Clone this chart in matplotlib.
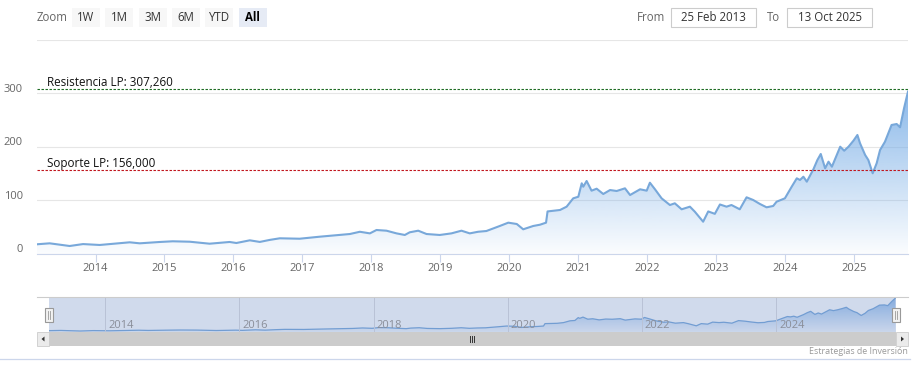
import numpy as np
import pandas as pd
import matplotlib
matplotlib.use("Agg")
import matplotlib.pyplot as plt
import matplotlib.dates as mdates
from matplotlib.patches import Rectangle, Polygon
from matplotlib.transforms import offset_copy, blended_transform_factory

plt.rcParams['font.family'] = ['Open Sans', 'DejaVu Sans']

# price series
dates = ["2013-02-25", "2013-05-03", "2013-08-17", "2013-10-27", "2014-01-23",
         "2014-07-01", "2014-08-23", "2014-12-07", "2015-02-14", "2015-05-15",
         "2015-08-28", "2015-12-12", "2016-01-17", "2016-03-28", "2016-05-20",
         "2016-07-12", "2016-09-03", "2016-12-17", "2017-04-03", "2017-09-09",
         "2017-11-01", "2017-12-24", "2018-01-28", "2018-03-22", "2018-05-14",
         "2018-06-27", "2018-07-23", "2018-09-06", "2018-10-20", "2018-12-29",
         "2019-03-01", "2019-04-23", "2019-06-06", "2019-07-20", "2019-09-02",
         "2019-11-12", "2019-12-27", "2020-02-10", "2020-03-15", "2020-05-07",
         "2020-06-12", "2020-07-14", "2020-07-22", "2020-09-26", "2020-10-31",
         "2020-12-05", "2021-01-01", "2021-01-19", "2021-01-27", "2021-02-14",
         "2021-03-12", "2021-04-08", "2021-05-13", "2021-06-18", "2021-07-23",
         "2021-09-05", "2021-10-02", "2021-11-24", "2021-12-29", "2022-01-15",
         "2022-02-11", "2022-03-18", "2022-05-01", "2022-05-27", "2022-07-02",
         "2022-08-15", "2022-09-10", "2022-10-24", "2022-11-20", "2022-12-25",
         "2023-01-21", "2023-02-25", "2023-03-23", "2023-05-06", "2023-06-11",
         "2023-07-16", "2023-08-21", "2023-09-25", "2023-10-30", "2023-11-17",
         "2023-12-31", "2024-02-05", "2024-03-03", "2024-03-20", "2024-04-07",
         "2024-04-25", "2024-05-30", "2024-06-20", "2024-07-08", "2024-07-31",
         "2024-08-18", "2024-09-05", "2024-10-19", "2024-11-09", "2024-12-02",
         "2024-12-28", "2025-01-18", "2025-02-01", "2025-02-28", "2025-03-17",
         "2025-04-09", "2025-04-30", "2025-05-18", "2025-06-13", "2025-07-18",
         "2025-08-14", "2025-09-01", "2025-09-22", "2025-10-13"]
prices = [17.6, 19.4, 14.4, 18.0, 16.3,
          21.3, 19.4, 21.9, 23.2, 22.4,
          18.7, 21.9, 20.0, 25.0, 22.0,
          25.8, 28.8, 28.0, 31.8, 36.8,
          41.0, 38.0, 44.3, 43.0, 38.0,
          35.0, 40.0, 43.0, 36.8, 35.0,
          38.0, 43.0, 38.0, 41.0, 42.4,
          51.8, 58.0, 55.5, 45.6, 51.8,
          54.2, 58.0, 79.0, 81.7, 87.9,
          103.5, 106.5, 131.6, 125.2, 135.9,
          117.8, 121.5, 111.6, 119.0, 117.2,
          122.2, 109.7, 120.4, 117.8, 132.7,
          120.4, 103.5, 91.0, 94.2, 83.0,
          87.9, 78.5, 59.8, 79.0, 74.5,
          92.0, 87.9, 91.0, 83.0, 105.4,
          100.4, 92.9, 86.7, 89.2, 97.2,
          103.5, 125.2, 140.9, 137.8, 143.9,
          134.6, 157.8, 175.1, 186.4, 159.6,
          172.0, 162.6, 200.0, 192.5, 200.0,
          211.2, 221.9, 206.4, 184.5, 175.1,
          150.3, 169.0, 193.8, 209.3, 240.6,
          242.4, 236.3, 271.8, 303.0]

resistencia = 307.26
soporte = 156.0
resistencia_label = "Resistencia LP: 307,260"
soporte_label = "Soporte LP: 156,000"

y_ticks = [0, 100, 200, 300, 400]
y_labels = ["0", "100", "200", "300"]
nav_years = [2014, 2016, 2018, 2020, 2022, 2024]

zoom_buttons = ["1W", "1M", "3M", "6M", "YTD", "All"]
date_from = "25 Feb 2013"
date_to = "13 Oct 2025"
credits = "Estrategias de Inversión"

W, H = 916, 374
fig = plt.figure(figsize=(W / 100, H / 100), dpi=100)
fig.patch.set_facecolor("white")

t = mdates.date2num(pd.to_datetime(dates))
p = np.array(prices)

line_col = "#78a8da"
fill_rgb = np.array([118, 172, 230]) / 255.0


def gradient_area(ax, x, y, top, a_top, a_bot):
    grad = np.zeros((256, 1, 4))
    grad[..., :3] = fill_rgb
    grad[:, 0, 3] = np.linspace(a_top, a_bot, 256)
    im = ax.imshow(grad, extent=[x[0], x[-1], 0, top], aspect="auto",
                   origin="upper", zorder=1, interpolation="bilinear")
    poly = ax.fill_between(x, y, 0, facecolor="none", edgecolor="none")
    im.set_clip_path(poly.get_paths()[0], transform=ax.transData)


# ---- main chart
ax = fig.add_axes([37 / W, (H - 253.7) / H, 871 / W, 214 / H])
gradient_area(ax, t, p, p.max(), 0.85, 0.03)
ax.plot(t, p, color=line_col, lw=1.5, zorder=3, solid_joinstyle="round")
ax.axhline(resistencia, color="#1d6b22", lw=0.8, ls=(0, (2.2, 1.4)), zorder=4)
ax.axhline(soporte, color="#c0141c", lw=0.8, ls=(0, (2.2, 1.4)), zorder=4)

ax.set_xlim(t[0], t[-1])
ax.set_ylim(0, 400)
ax.set_yticks(y_ticks)
ax.set_yticklabels([])
ax.tick_params(axis="y", length=0)
ax.yaxis.grid(True, color="#e6e6e6", lw=0.8)
ax.set_axisbelow(True)
for s in ["top", "left", "right"]:
    ax.spines[s].set_visible(False)
ax.spines["bottom"].set_color("#ccd6eb")
ax.spines["bottom"].set_linewidth(0.8)
ax.xaxis.set_major_locator(mdates.YearLocator())
ax.xaxis.set_major_formatter(mdates.DateFormatter("%Y"))
ax.tick_params(axis="x", direction="out", length=5.8, width=0.8,
               color="#ccd6eb", labelcolor="#666666", labelsize=8, pad=1.2)

ylab_tr = offset_copy(ax.get_yaxis_transform(), fig=fig, x=-14, y=4, units="dots")
for v, lab in zip(y_ticks, y_labels):
    ax.text(0, v, lab, transform=ylab_tr, ha="right", va="center",
            color="#666666", fontsize=8)

res_tr = offset_copy(ax.get_yaxis_transform(), fig=fig, x=10, y=7, units="dots")
ax.text(0, resistencia, resistencia_label, transform=res_tr, ha="left",
        va="center", color="#111111", fontsize=8.4)
ax.text(0, soporte, soporte_label, transform=res_tr, ha="left",
        va="center", color="#111111", fontsize=8.4)

# ---- navigator
nav = fig.add_axes([48.5 / W, (H - 332) / H, 847 / W, 35 / H])
span = p.max() - p.min()
gradient_area(nav, t, p, p.max(), 0.8, 0.05)
nav.plot(t, p, color=line_col, lw=0.9, zorder=3)
nav.set_xlim(t[0], t[-1])
nav.set_ylim(p.min() - span * 0.03, p.max() + span * 0.03)
nav.axvspan(t[0], t[-1], color=(102 / 255, 133 / 255, 194 / 255), alpha=0.3,
            lw=0, zorder=4)
nav.axis("off")
nav_tr = blended_transform_factory(nav.transData, nav.transAxes)
nav_lab_tr = offset_copy(nav_tr, fig=fig, x=3, y=0, units="dots")
for yr in nav_years:
    xn = mdates.date2num(pd.Timestamp(f"{yr}-01-01"))
    nav.plot([xn, xn], [0, 1], transform=nav_tr, color="#b9c2d6", lw=0.7, zorder=5)
    nav.text(xn, 0.18, str(yr), transform=nav_lab_tr, ha="left", va="center",
             color="#8a8e99", fontsize=8, zorder=6)

# ---- page chrome in pixel coords
ov = fig.add_axes([0, 0, 1, 1], zorder=10)
ov.set_xlim(0, W)
ov.set_ylim(H, 0)
ov.axis("off")
ov.patch.set_alpha(0)

ov.text(37, 17.5, "Zoom", ha="left", va="center", color="#666666", fontsize=8.3)
for i, lab in enumerate(zoom_buttons):
    x0 = 72 + i * 33.3
    sel = lab == "All"
    ov.add_patch(Rectangle((x0, 8), 28, 19, fc="#e6ebf5" if sel else "#f7f7f7",
                           ec="none"))
    ov.text(x0 + 14, 17.5, lab, ha="center", va="center",
            color="#000000" if sel else "#333333", fontsize=8.3,
            fontweight="bold" if sel else "normal")

ov.text(665, 17.5, "From", ha="right", va="center", color="#666666", fontsize=8.3)
ov.add_patch(Rectangle((671, 8), 85, 19, fc="white", ec="#cccccc", lw=0.8))
ov.text(713.5, 17.5, date_from, ha="center", va="center", color="#333333", fontsize=8.3)
ov.text(767, 17.5, "To", ha="left", va="center", color="#666666", fontsize=8.3)
ov.add_patch(Rectangle((787, 8), 85, 19, fc="white", ec="#cccccc", lw=0.8))
ov.text(829.5, 17.5, date_to, ha="center", va="center", color="#333333", fontsize=8.3)

# navigator outline, scrollbar, handles
ov.plot([37, 908], [297, 297], color="#cccccc", lw=0.8)
ov.add_patch(Rectangle((48.5, 332), 847, 14, fc="#cccccc", ec="none"))
ov.add_patch(Rectangle((37, 332), 11.5, 14, fc="#ebebeb", ec="#cccccc", lw=0.6))
ov.add_patch(Rectangle((895.5, 332), 12.5, 14, fc="#ebebeb", ec="#cccccc", lw=0.6))
ov.add_patch(Polygon([(41.5, 339), (44.5, 336.5), (44.5, 341.5)], fc="#333333", ec="none"))
ov.add_patch(Polygon([(904, 339), (901, 336.5), (901, 341.5)], fc="#333333", ec="none"))
for gx in [470, 472, 474]:
    ov.plot([gx, gx], [336, 342], color="#333333", lw=0.7)
for hx in [45, 892]:
    ov.add_patch(Rectangle((hx, 308), 8, 14, fc="#f2f2f2", ec="#999999", lw=0.8))
    for lx in [hx + 3, hx + 5]:
        ov.plot([lx, lx], [311, 319], color="#999999", lw=0.6)

ov.plot([0, 910], [359, 359], color="#ccd6eb", lw=0.9)
ov.text(908, 351, credits, ha="right", va="center", color="#999999", fontsize=6.4)

fig.savefig("out.png", dpi=100)
